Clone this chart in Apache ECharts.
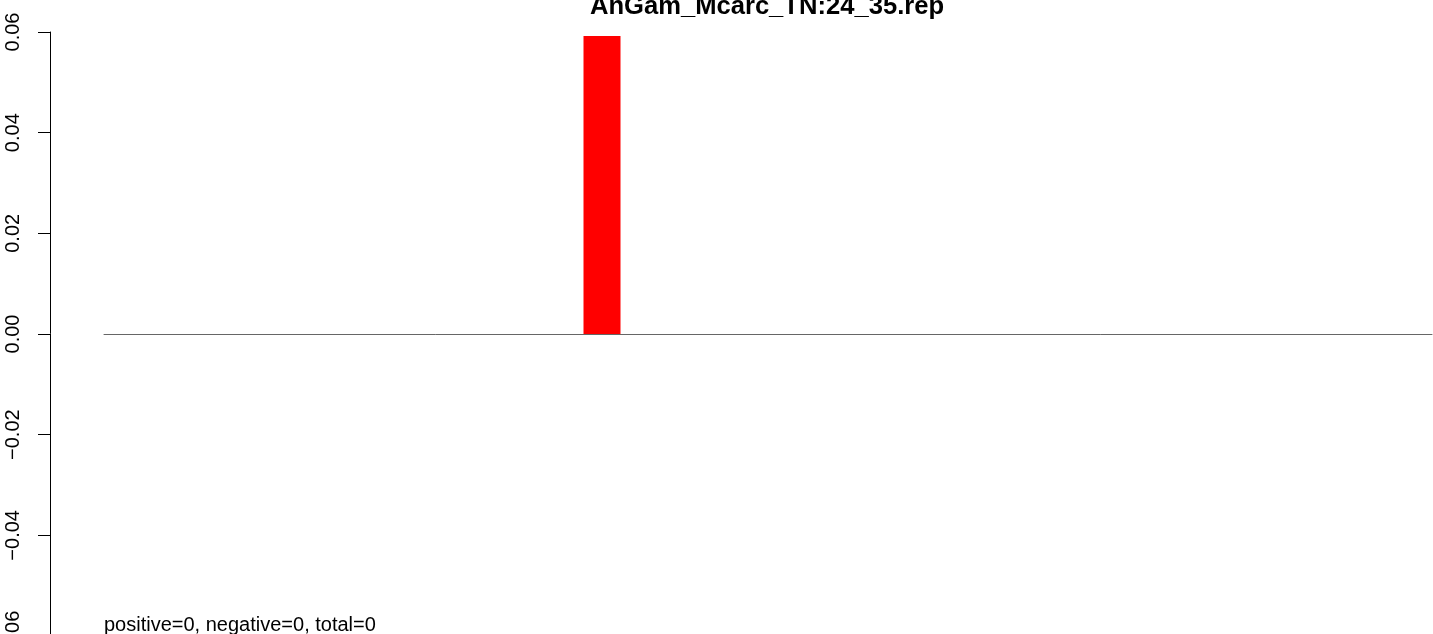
<!DOCTYPE html>
<html>
<head>
<meta charset="utf-8">
<script src="https://cdn.jsdelivr.net/npm/echarts@6/dist/echarts.min.js"></script>
<style>html,body{margin:0;padding:0;background:#fff}#c{width:1433px;height:634px}</style>
</head>
<body>
<div id="c"></div>
<script>
const titleText = "AnGam_Mcarc_TN:24_35.rep";
const footerText = "positive=0, negative=0, total=0";
const categories = ["1","2","3","4","5","6","7","8","9","10","11","12","13","14","15","16","17","18","19","20","21","22","23","24","25","26","27","28"];
const values = [0,0,0,0,0,0,0,0,0,0,0.0592,0,0,0,0,0,0,0,0,0,0,0,0,0,0,0,0,0];
const yTicks = [-0.06, -0.04, -0.02, 0.00, 0.02, 0.04, 0.06];

const chart = echarts.init(document.getElementById('c'), null, {renderer: 'canvas'});
const font = 'Liberation Sans, Arial, Helvetica, sans-serif';
chart.setOption({
  animation: false,
  backgroundColor: '#ffffff',
  title: {
    text: titleText,
    left: 762, top: -11,
    textAlign: 'center',
    textStyle: {fontFamily: font, fontSize: 25.6, fontWeight: 'bold', color: '#000'}
  },
  graphic: [{
    type: 'text', left: 104, top: 615,
    style: {text: footerText, fontFamily: font, fontSize: 20, fill: '#000'}
  }],
  grid: {left: 104, width: 1328, top: 32, height: 604, containLabel: false, outerBoundsMode: 'none'},
  xAxis: {
    type: 'category', data: categories,
    axisLine: {show: true, onZero: true, lineStyle: {color: '#666', width: 1}},
    axisTick: {show: false}, axisLabel: {show: false}, splitLine: {show: false}
  },
  yAxis: {
    type: 'value', min: yTicks[0], max: yTicks[yTicks.length-1], interval: 0.02,
    offset: 54,
    axisLine: {show: true, lineStyle: {color: '#000', width: 1}},
    axisTick: {show: true, length: 12, lineStyle: {color: '#000', width: 1}},
    splitLine: {show: false},
    axisLabel: {
      rotate: 90, margin: 27, fontFamily: font, fontSize: 20, color: '#000',
      formatter: v => (v < 0 ? '\u2212' : '') + Math.abs(v).toFixed(2)
    }
  },
  series: [{
    type: 'bar', data: values, barWidth: 37,
    itemStyle: {color: '#ff0000'}
  }]
});
</script>
</body>
</html>
